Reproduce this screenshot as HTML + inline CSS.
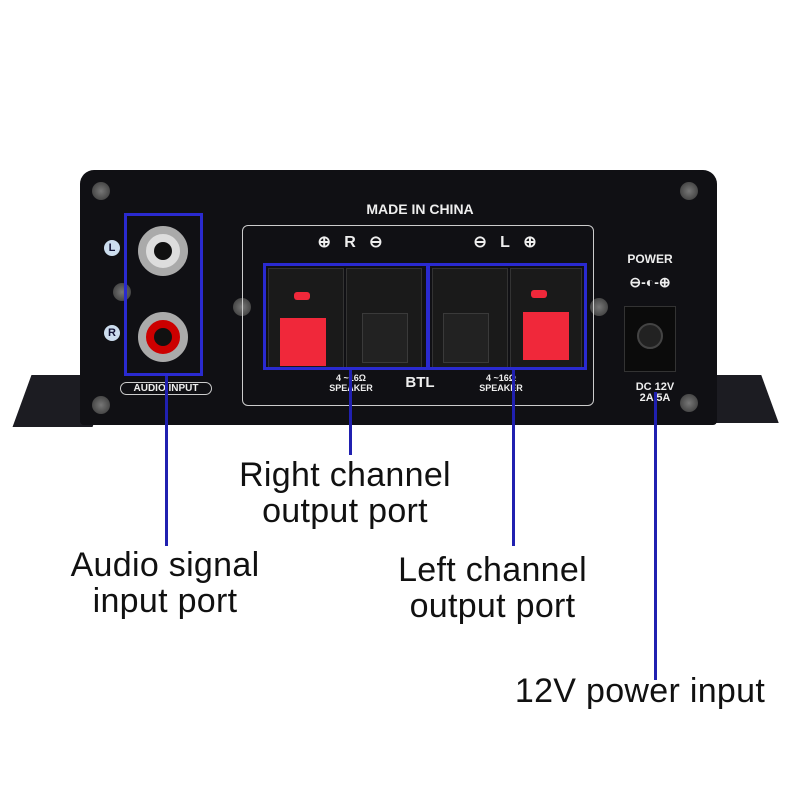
<!DOCTYPE html>
<html><head><style>
body{margin:0;width:800px;height:800px;background:#fff;position:relative;overflow:hidden;font-family:"Liberation Sans",sans-serif}
div{position:absolute;box-sizing:border-box}
.scr{width:18px;height:18px;border-radius:50%;background:radial-gradient(#777,#333);}
.t{color:#eee;font-weight:bold;font-size:13px;text-align:center}
.lab{color:#111;font-size:34px;text-align:center;line-height:36px;letter-spacing:0.3px;white-space:nowrap}
.bl{background:#2020b0;width:3px}
.box{border:3px solid #2a2ad0}
.term{background:#1a1a1a;border:1px solid #333}
.red{background:#f0283a}
.dk{background:#222;border:1px solid #3a3a3a}
</style></head><body>
<div style="left:22px;top:375px;width:80px;height:52px;background:#1c1c22;transform:skewX(-20deg)"></div>
<div style="left:700px;top:375px;width:70px;height:48px;background:#1c1c22;transform:skewX(20deg)"></div>
<div style="left:80px;top:170px;width:637px;height:255px;background:#101014;border-radius:14px 14px 4px 4px"></div>
<div class="scr" style="left:92px;top:182px"></div>
<div class="scr" style="left:680px;top:182px"></div>
<div class="scr" style="left:92px;top:396px"></div>
<div class="scr" style="left:680px;top:394px"></div>
<div class="scr" style="left:113px;top:283px"></div>
<div class="scr" style="left:233px;top:298px"></div>
<div class="scr" style="left:590px;top:298px"></div>
<div class="t" style="left:300px;top:201px;width:240px;font-size:14px">MADE IN CHINA</div>
<div style="left:242px;top:225px;width:352px;height:181px;border:1px solid #ccc;border-radius:6px"></div>
<div class="t" style="left:290px;top:232px;width:120px;font-size:16px">⊕&nbsp;&nbsp;&nbsp;R&nbsp;&nbsp;&nbsp;⊖</div>
<div class="t" style="left:445px;top:232px;width:120px;font-size:16px">⊖&nbsp;&nbsp;&nbsp;L&nbsp;&nbsp;&nbsp;⊕</div>
<div class="t" style="left:104px;top:240px;width:16px;height:16px;border-radius:50%;background:#cde;color:#113;font-size:11px;line-height:16px">L</div>
<div class="t" style="left:104px;top:325px;width:16px;height:16px;border-radius:50%;background:#cde;color:#113;font-size:11px;line-height:16px">R</div>
<div style="left:138px;top:226px;width:50px;height:50px;border-radius:50%;background:#ddd;border:8px solid #aaa"><div style="left:8px;top:8px;width:18px;height:18px;border-radius:50%;background:#111"></div></div>
<div style="left:138px;top:312px;width:50px;height:50px;border-radius:50%;background:#c00;border:8px solid #aaa"><div style="left:8px;top:8px;width:18px;height:18px;border-radius:50%;background:#111"></div></div>
<div class="t" style="left:120px;top:382px;width:92px;border:1px solid #ccc;border-radius:8px;font-size:10px">AUDIO INPUT</div>
<div class="term" style="left:268px;top:268px;width:76px;height:100px"></div>
<div class="term" style="left:346px;top:268px;width:76px;height:100px"></div>
<div class="term" style="left:432px;top:268px;width:76px;height:100px"></div>
<div class="term" style="left:510px;top:268px;width:72px;height:100px"></div>
<div class="red" style="left:294px;top:292px;width:16px;height:8px;border-radius:3px"></div>
<div class="red" style="left:531px;top:290px;width:16px;height:8px;border-radius:3px"></div>
<div class="red" style="left:280px;top:318px;width:46px;height:48px"></div>
<div class="red" style="left:523px;top:312px;width:46px;height:48px"></div>
<div class="dk" style="left:362px;top:313px;width:46px;height:50px"></div>
<div class="dk" style="left:443px;top:313px;width:46px;height:50px"></div>
<div class="t" style="left:320px;top:373px;width:62px;font-size:9px;line-height:10px">4 ~16Ω<br>SPEAKER</div>
<div class="t" style="left:470px;top:373px;width:62px;font-size:9px;line-height:10px">4 ~16Ω<br>SPEAKER</div>
<div class="t" style="left:395px;top:374px;width:50px;font-size:15px">BTL</div>
<div class="t" style="left:605px;top:252px;width:90px;font-size:12px">POWER</div>
<div class="t" style="left:605px;top:274px;width:90px;font-size:14px">⊖-◐-⊕</div>
<div style="left:624px;top:306px;width:52px;height:66px;background:#0b0b0b;border:1px solid #333"><div style="left:12px;top:16px;width:26px;height:26px;border-radius:50%;background:#222;border:2px solid #444"></div></div>
<div class="t" style="left:615px;top:382px;width:80px;font-size:11px;line-height:11px">DC 12V<br>2A 5A</div>
<div class="box" style="left:124px;top:213px;width:79px;height:163px"></div>
<div class="box" style="left:263px;top:263px;width:166px;height:107px"></div>
<div class="box" style="left:427px;top:263px;width:160px;height:107px"></div>
<div class="bl" style="left:165px;top:376px;height:170px"></div>
<div class="bl" style="left:349px;top:370px;height:85px"></div>
<div class="bl" style="left:512px;top:370px;height:176px"></div>
<div class="bl" style="left:654px;top:392px;height:288px"></div>
<div class="lab" style="left:195px;top:457px;width:300px">Right channel<br>output port</div>
<div class="lab" style="left:35px;top:547px;width:260px">Audio signal<br>input port</div>
<div class="lab" style="left:355px;top:552px;width:275px">Left channel<br>output port</div>
<div class="lab" style="left:490px;top:673px;width:300px">12V power input</div>
</body></html>
